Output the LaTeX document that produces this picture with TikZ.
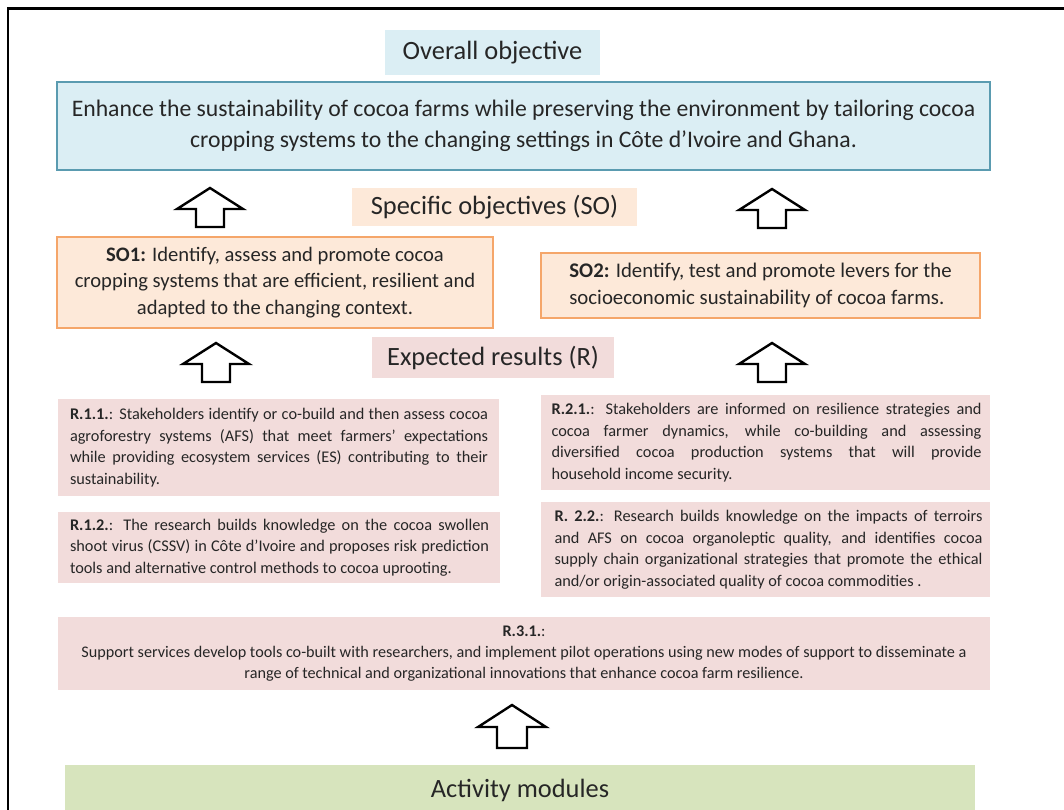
\documentclass[tikz,border=0pt]{standalone}
\usepackage{fontspec}
\setmainfont{Carlito}
\definecolor{lblue}{HTML}{DBEEF4}
\definecolor{bblue}{HTML}{5A9BB0}
\definecolor{peach}{HTML}{FDE9D9}
\definecolor{borange}{HTML}{F5A66A}
\definecolor{pinkr}{HTML}{F2DCDB}
\definecolor{greena}{HTML}{D7E4BD}
\definecolor{txt}{HTML}{262626}
\newcommand{\rfont}{\fontsize{16.3}{21.5}\selectfont}
\tikzset{
  base/.style={rectangle, inner sep=0pt, text=txt, align=center},
  headbox/.style={base, font=\fontsize{26.4}{30}\selectfont},
  rbox/.style={base, fill=pinkr},
  uparrow/.pic={
    \draw[line width=2.4pt, line join=miter, fill=white]
      (0,0) -- (-33,21) -- (-14,21) -- (-14,39) -- (14,39) -- (14,21) -- (33,21) -- cycle;
  },
  bigarrow/.pic={
    \draw[line width=2.4pt, line join=miter, fill=white]
      (0,0) -- (-34,22) -- (-15,22) -- (-15,43) -- (15,43) -- (15,22) -- (34,22) -- cycle;
  }
}
\begin{document}
\begin{tikzpicture}[x=1pt,y=-1pt]
\useasboundingbox (0,0) rectangle (1064,809);
\fill[white] (0,0) rectangle (1064,809);
% frame
\coordinate (fbl) at (8,812);
\coordinate (ftl) at (8,8.5);
\coordinate (ftr) at (1068,8.5);
\draw[line width=2.6pt] (fbl) -- (ftl) -- (ftr);

% overall objective
\node[headbox, fill=lblue, minimum width=215pt, minimum height=45pt] (oo) at (492.5,52.5) {Overall objective};
\node[base, fill=lblue, draw=bblue, line width=1.6pt, minimum width=933pt, minimum height=88pt,
      font=\fontsize{23.7}{31}\selectfont] (main) at (523.5,126)
  {Enhance the sustainability of cocoa farms while preserving the environment by tailoring cocoa\\
   cropping systems to the changing settings in Côte d'Ivoire and Ghana.};

% specific objectives
\pic at (210,188) {uparrow};
\pic at (772,189) {uparrow};
\node[headbox, fill=peach, minimum width=285pt, minimum height=38pt] (so) at (494.5,207) {Specific objectives (SO)};
\node[base, fill=peach, draw=borange, line width=1.6pt, minimum width=436pt, minimum height=91pt,
      font=\fontsize{20.6}{26.5}\selectfont] (so1) at (275,282.5)
  {\textbf{SO1:} Identify, assess and promote cocoa\\
   cropping systems that are efficient, resilient and\\
   adapted to the changing context.};
\node[base, fill=peach, draw=borange, line width=1.6pt, minimum width=439pt, minimum height=65pt,
      font=\fontsize{20.8}{27}\selectfont, align=left] (so2) at (760.5,285.5)
  {\textbf{SO2:} Identify, test and promote levers for the\\
   socioeconomic sustainability of cocoa farms.};

% expected results
\pic at (216,343) {uparrow};
\pic at (772,343) {uparrow};
\node[headbox, fill=pinkr, minimum width=242pt, minimum height=41pt] (er) at (493,357.5) {Expected results (R)};

\node[rbox, minimum width=441pt, minimum height=97pt] (r11) at (278.5,447.5)
  {\hspace*{1pt}\parbox{418pt}{\rfont
   \textbf{R.1.1.}: Stakeholders identify or co-build and then assess cocoa\linebreak
   agroforestry systems (AFS) that meet farmers' expectations\linebreak
   while providing ecosystem services (ES) contributing to their\linebreak
   sustainability.}};
\node[rbox, minimum width=442pt, minimum height=71pt] (r12) at (279,547.5)
  {\hspace*{1pt}\parbox{419pt}{\rfont
   \textbf{R.1.2.}: The research builds knowledge on the cocoa swollen\linebreak
   shoot virus (CSSV) in Côte d'Ivoire and proposes risk prediction\linebreak
   tools and alternative control methods to cocoa uprooting.}};
\node[rbox, minimum width=449pt, minimum height=95pt] (r21) at (765.5,442.5)
  {\hspace*{2pt}\parbox{430pt}{\rfont
   \textbf{R.2.1.}: Stakeholders are informed on resilience strategies and\linebreak
   cocoa farmer dynamics, while co-building and assessing\linebreak
   diversified cocoa production systems that will provide\linebreak
   household income security.}};
\node[rbox, minimum width=449pt, minimum height=95pt] (r22) at (765.5,549.5)
  {\hspace*{6pt}\parbox{428pt}{\rfont
   \textbf{R. 2.2.}: Research builds knowledge on the impacts of terroirs\linebreak
   and AFS on cocoa organoleptic quality, and identifies cocoa\linebreak
   supply chain organizational strategies that promote the ethical\linebreak
   and/or origin-associated quality of cocoa commodities .}};
\node[rbox, minimum width=932pt, minimum height=73pt, font=\fontsize{16.2}{21}\selectfont] (r31) at (524,653.5)
  {\textbf{R.3.1.}:\\
   Support services develop tools co-built with researchers, and implement pilot operations using new modes of support to disseminate a\\
   range of technical and organizational innovations that enhance cocoa farm resilience.};

% activity modules
\pic at (512,705) {bigarrow};
\node[headbox, fill=greena, minimum width=910pt, minimum height=50pt] (act) at (520,790) {\raisebox{1.5pt}{Activity modules}};
\end{tikzpicture}
\end{document}
